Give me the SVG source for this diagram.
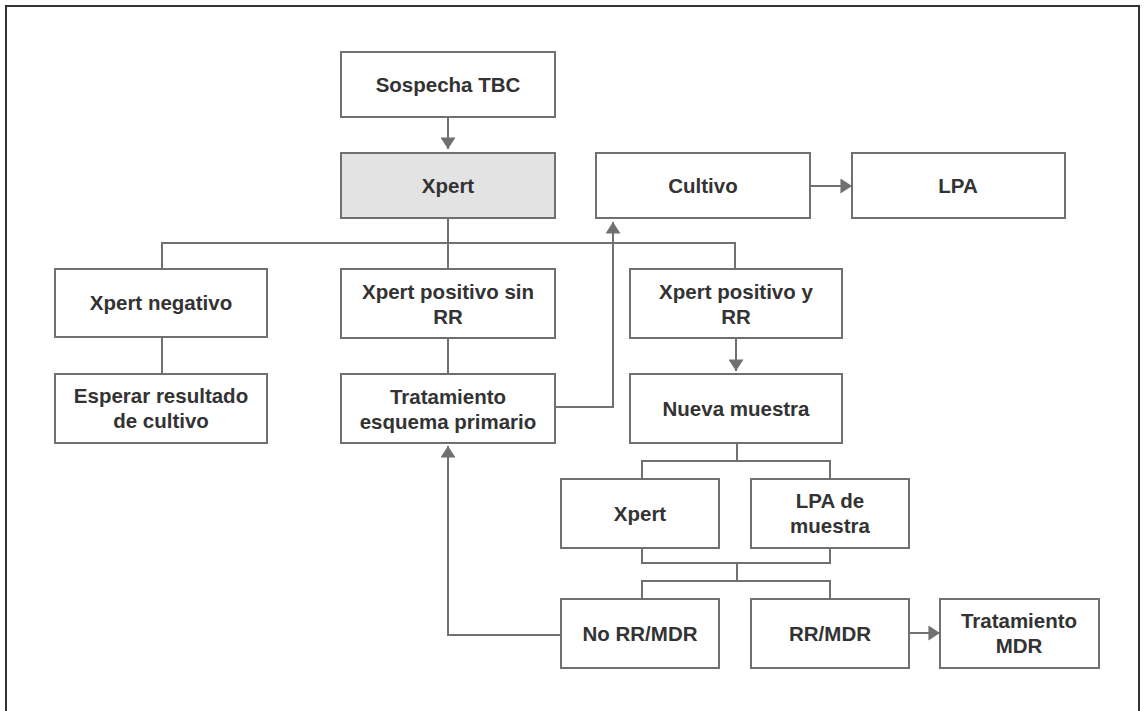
<svg xmlns="http://www.w3.org/2000/svg" width="1145" height="711" viewBox="0 0 1145 711">
<style>
.box{fill:#ffffff;stroke:#707070;stroke-width:2}
.hl{fill:#e3e3e3}
.t{font-family:"Liberation Sans",Arial,sans-serif;font-weight:bold;font-size:20.5px;fill:#333333;text-anchor:middle;letter-spacing:0px}
.c{fill:none;stroke:#707070;stroke-width:2}
</style>
<defs>
<marker id="ah" markerWidth="15" markerHeight="15" viewBox="0 0 10 13" refX="10" refY="6.5" orient="auto" markerUnits="userSpaceOnUse">
<path d="M0,0 L10,6.5 L0,13 Z" fill="#707070"/>
</marker>
</defs>
<rect x="6" y="6" width="1133" height="710" fill="#ffffff" stroke="#333333" stroke-width="2"/>
<g id="connectors">
<line class="c" x1="448" y1="117" x2="448" y2="149" marker-end="url(#ah)"/>
<polyline class="c" points="448,218 448,269"/>
<polyline class="c" points="162,269 162,243 735,243 735,269"/>
<line class="c" x1="162" y1="337" x2="162" y2="374"/>
<line class="c" x1="448" y1="338" x2="448" y2="374"/>
<polyline class="c" points="555,407 613,407 613,222" marker-end="url(#ah)"/>
<line class="c" x1="808" y1="186" x2="852" y2="186" marker-end="url(#ah)"/>
<line class="c" x1="736" y1="338" x2="736" y2="371" marker-end="url(#ah)"/>
<polyline class="c" points="737,443 737,461"/>
<polyline class="c" points="642,479 642,461 830,461 830,479"/>
<polyline class="c" points="642,548 642,563 830,563 830,548"/>
<polyline class="c" points="737,563 737,581"/>
<polyline class="c" points="642,599 642,581 830,581 830,599"/>
<polyline class="c" points="561,635 448,635 448,446" marker-end="url(#ah)"/>
<line class="c" x1="909" y1="633" x2="940" y2="633" marker-end="url(#ah)"/>
</g>
<g id="sospecha"><rect class="box" x="341" y="52" width="214" height="65"/><text class="t" x="448" y="92">Sospecha TBC</text></g>
<g id="xpert"><rect class="box hl" x="341" y="153" width="214" height="65"/><text class="t" x="448" y="193">Xpert</text></g>
<g id="cultivo"><rect class="box" x="596" y="153" width="214" height="65"/><text class="t" x="703" y="193">Cultivo</text></g>
<g id="lpa"><rect class="box" x="852" y="153" width="213" height="65"/><text class="t" x="958" y="193">LPA</text></g>
<g id="xpert-negativo"><rect class="box" x="55" y="269" width="212" height="68"/><text class="t" x="161" y="310">Xpert negativo</text></g>
<g id="xpert-pos-sin-rr"><rect class="box" x="341" y="269" width="214" height="69"/><text class="t" x="448" y="299">Xpert positivo sin</text><text class="t" x="448" y="324">RR</text></g>
<g id="xpert-pos-rr"><rect class="box" x="630" y="269" width="212" height="69"/><text class="t" x="736" y="299">Xpert positivo y</text><text class="t" x="736" y="324">RR</text></g>
<g id="esperar"><rect class="box" x="55" y="374" width="212" height="69"/><text class="t" x="161" y="403">Esperar resultado</text><text class="t" x="161" y="428">de cultivo</text></g>
<g id="tratamiento"><rect class="box" x="341" y="374" width="214" height="69"/><text class="t" x="448" y="404">Tratamiento</text><text class="t" x="448" y="429">esquema primario</text></g>
<g id="nueva-muestra"><rect class="box" x="630" y="374" width="212" height="69"/><text class="t" x="736" y="416">Nueva muestra</text></g>
<g id="xpert2"><rect class="box" x="561" y="479" width="158" height="69"/><text class="t" x="640" y="521">Xpert</text></g>
<g id="lpa-muestra"><rect class="box" x="751" y="479" width="158" height="69"/><text class="t" x="830" y="508">LPA de</text><text class="t" x="830" y="533">muestra</text></g>
<g id="no-rr-mdr"><rect class="box" x="561" y="599" width="158" height="69"/><text class="t" x="640" y="641">No RR/MDR</text></g>
<g id="rr-mdr"><rect class="box" x="751" y="599" width="158" height="69"/><text class="t" x="830" y="641">RR/MDR</text></g>
<g id="tratamiento-mdr"><rect class="box" x="940" y="599" width="159" height="69"/><text class="t" x="1019" y="628">Tratamiento</text><text class="t" x="1019" y="653">MDR</text></g>
</svg>
